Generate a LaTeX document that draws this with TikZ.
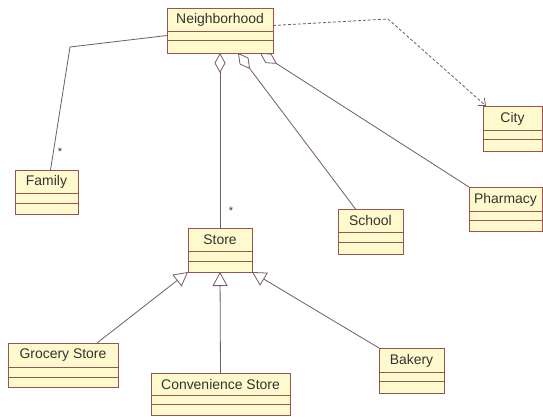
\documentclass[tikz,border=0pt]{standalone}
\usepackage{fontspec}
\setmainfont{Liberation Sans}
\usetikzlibrary{arrows.meta}
\definecolor{boxc}{RGB}{150,85,80}
\definecolor{boxf}{RGB}{255,250,205}
\definecolor{linec}{RGB}{115,90,100}
\definecolor{txtc}{RGB}{50,50,50}
\tikzset{
  cls/.style={draw=boxc, fill=boxf, line width=0.9bp, inner sep=0pt, outer sep=0pt},
  clstext/.style={font=\fontsize{14}{16}\selectfont, text=txtc, inner sep=0pt},
  divider/.style={draw=boxc, line width=0.9bp},
  link/.style={draw=linec, line width=0.8bp},
  aggr/.style={link, -{Diamond[open, fill=white, length=20bp, width=11bp, line width=0.8bp]}},
  gen/.style={link, -{Triangle[open, fill=white, length=14bp, width=15bp, line width=0.8bp]}},
  dep/.style={link, dash pattern=on 3bp off 2bp, -{Straight Barb[length=6bp, width=10bp, line width=0.8bp]}},
  mult/.style={font=\fontsize{11}{12}\selectfont, text=txtc, inner sep=0pt}
}
% name, x1, y1, x2, y2, divider1, divider2, text
\newcommand\umlcls[8]{%
  \node[cls, anchor=north west, minimum width={(#4-#2)*1bp}, minimum height={(#5-#3)*1bp}] (#1) at (#2,#3) {};
  \node[clstext] (#1-t) at ({(#2+#4)/2},{(#3+#6)/2+0.5}) {#8};
  \draw[divider] (#2,#6) -- (#4,#6);
  \draw[divider] (#2,#7) -- (#4,#7);
}
\begin{document}
\begin{tikzpicture}[x=1bp, y=-1bp]
\useasboundingbox (0,0) rectangle (543,416);
\umlcls{nbh}{167}{8}{273}{53}{31}{40}{Neighborhood}
\umlcls{city}{483}{106}{542}{151}{130}{139}{City}
\umlcls{pharm}{469}{187}{542}{231}{211}{220}{Pharmacy}
\umlcls{school}{338}{209}{403}{254}{232}{242}{School}
\umlcls{fam}{15}{170}{78}{214}{193}{203}{Family}
\umlcls{store}{188}{228}{252}{272}{251}{261}{Store}
\umlcls{groc}{8}{343}{118}{387}{367}{377}{Grocery Store}
\umlcls{conv}{151}{373}{290}{415}{395}{404}{Convenience Store}
\umlcls{bak}{379}{348}{444}{393}{372}{381}{Bakery}

\coordinate (fbend) at (70,47);
\coordinate (dbend) at (388,19);

\draw[link] ([yshift=-5bp]nbh.west) -- (fbend) -- ([xshift=4bp]fam.north);
\draw[aggr] (store.north) -- (nbh.south);
\draw[aggr] ([xshift=-15bp]school.north) -- ([xshift=18bp]nbh.south);
\draw[aggr] (pharm.north west) -- ([xshift=40bp]nbh.south);
\draw[dep] ([yshift=5bp]nbh.east) -- (dbend) -- ([xshift=3bp]city.north west);

\draw[gen] ([xshift=34bp]groc.north) -- (store.south west);
\draw[gen] (conv.north) -- (store.south);
\draw[gen] (bak.north west) -- (store.south east);

\node[mult] (m1) at (60,152) {*};
\node[mult] (m2) at (231,211) {*};
\end{tikzpicture}
\end{document}
